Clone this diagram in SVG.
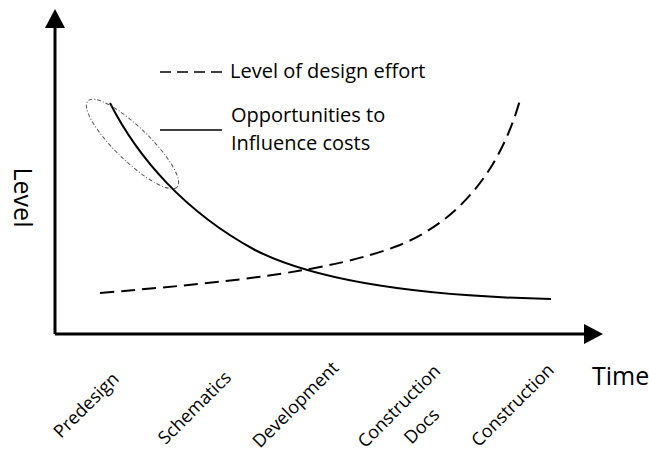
<svg xmlns="http://www.w3.org/2000/svg" width="649" height="454" viewBox="0 0 649 454">
<style>
text{font-family:"Open Sans","Noto Sans","Liberation Sans",sans-serif;fill:#000}
.lg{font-size:20px}
.tk{font-size:18px}
.ax{font-size:25px}
.axis{stroke:#000;stroke-width:3;fill:none}
.solid{stroke:#000;stroke-width:2;fill:none}
.dash{stroke:#000;stroke-width:2;fill:none;stroke-dasharray:14 7}
</style>
<g id="connectors">
<path class="axis" d="M55,334 L55,28"/>
<path d="M45,28 L55,9 L65,28 Z" fill="#000"/>
<path class="axis" d="M55,334 L584,334"/>
<path d="M584,324 L603,334 L584,344 Z" fill="#000"/>
<path id="design-effort" class="dash" d="M100,293 C230,282 330,272 400,245 C460,220 500,170 520,100"/>
<path id="influence-costs" class="solid" d="M110,103 C138,158 185,212 255,250 C318,282 420,296 551,299"/>
</g>
<g id="highlight">
<ellipse cx="132.5" cy="144" rx="62" ry="17" transform="rotate(44 132.5 144)" fill="none" stroke="#555" stroke-width="1" stroke-dasharray="4 2 1 2"/>
</g>
<g id="legend">
<line x1="160" y1="72" x2="222" y2="72" stroke="#000" stroke-width="1.5" stroke-dasharray="11 6"/>
<text class="lg" x="230" y="78">Level of design effort</text>
<line x1="160" y1="130" x2="222" y2="130" stroke="#000" stroke-width="1.5"/>
<text class="lg" x="231" y="122">Opportunities to</text>
<text class="lg" x="231" y="150">Influence costs</text>
</g>
<g id="axis-labels">
<text class="ax" text-anchor="middle" dy="0.35em" transform="translate(23 197.5) rotate(90)">Level</text>
<text class="ax" x="592" y="385">Time</text>
</g>
<g id="ticks">
<text class="tk" text-anchor="middle" dy="0.35em" transform="translate(86 405) rotate(-45)">Predesign</text>
<text class="tk" text-anchor="middle" dy="0.35em" transform="translate(194.5 407.5) rotate(-45)">Schematics</text>
<text class="tk" text-anchor="middle" dy="0.35em" transform="translate(295.5 404.5) rotate(-45)">Development</text>
<text class="tk" text-anchor="middle" dy="0.35em" transform="translate(399 406) rotate(-45)">Construction</text>
<text class="tk" text-anchor="middle" dy="0.35em" transform="translate(421.5 426) rotate(-45)">Docs</text>
<text class="tk" text-anchor="middle" dy="0.35em" transform="translate(512.5 405) rotate(-45)">Construction</text>
</g>
</svg>
